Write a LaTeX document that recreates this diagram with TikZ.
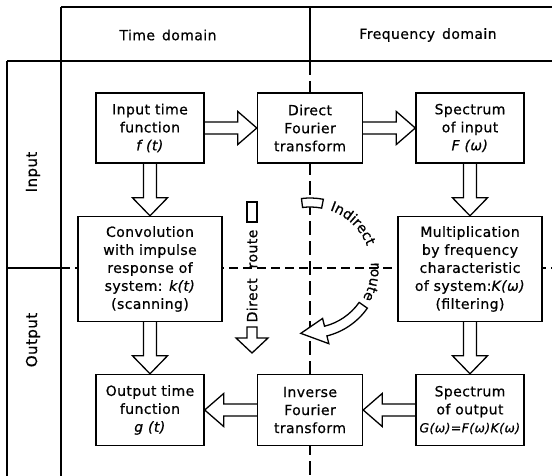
\documentclass[tikz,border=0pt]{standalone}
\usepackage{fontspec}
\setmainfont{DejaVu Sans}[LetterSpace=3, FakeBold=0.6]
\usetikzlibrary{positioning,calc,decorations.text}

\tikzset{
  gridline/.style={line width=1.1pt},
  divider/.style={line width=1.1pt, dash pattern=on 9pt off 5pt},
  heading/.style={font=\fontsize{14}{18}\selectfont},
  box/.style={draw, fill=white, line width=1.4pt, align=center, inner sep=1pt,
    font=\fontsize{14}{18}\selectfont},
  smallbox/.style={box, minimum width=108pt, minimum height=70pt},
  bigbox/.style={box, minimum width=144pt, minimum height=105pt},
  blockarrow/.style={draw, line width=1.3pt, line join=miter},
  routearrow/.style={blockarrow, fill=white},
  % hollow block arrows between the boxes
  fatdown/.style={blockarrow, to path={
    ($(\tikztostart.south)+(-6.5,0)$) -- ($(\tikztotarget.north)+(-6.5,-18)$)
    -- ($(\tikztotarget.north)+(-17.5,-18)$) -- (\tikztotarget.north)
    -- ($(\tikztotarget.north)+(17.5,-18)$) -- ($(\tikztotarget.north)+(6.5,-18)$)
    -- ($(\tikztostart.south)+(6.5,0)$)}},
  fatright/.style={blockarrow, to path={
    ($(\tikztostart.east)+(0,-6)$) -- ($(\tikztotarget.west)+(-19,-6)$)
    -- ($(\tikztotarget.west)+(-19,-16.5)$) -- (\tikztotarget.west)
    -- ($(\tikztotarget.west)+(-19,16.5)$) -- ($(\tikztotarget.west)+(-19,6)$)
    -- ($(\tikztostart.east)+(0,6)$)}},
  fatleft/.style={blockarrow, to path={
    ($(\tikztostart.west)+(0,-6)$) -- ($(\tikztotarget.east)+(19,-6)$)
    -- ($(\tikztotarget.east)+(19,-16.5)$) -- (\tikztotarget.east)
    -- ($(\tikztotarget.east)+(19,16.5)$) -- ($(\tikztotarget.east)+(19,6)$)
    -- ($(\tikztostart.west)+(0,6)$)}}
}

\begin{document}
\begin{tikzpicture}[x=1pt, y=-1pt, node distance=160pt]
	\useasboundingbox (0,0) rectangle (552,476);
	
	% table frame
	\draw[gridline] (61,7) -- (552,7);
	\draw[gridline] (7,61) -- (552,61);
	\draw[gridline] (7,61) -- (7,476);
	\draw[gridline] (61,7) -- (61,476);
	\draw[gridline] (310,7) -- (310,61);
	\draw[gridline] (7,268) -- (61,268);
	\draw[divider] (61,268) -- (552,268);
	\draw[divider, dash pattern=on 14pt off 6pt] (310,61) -- (310,476);
	
	\node[heading] (time) at (168,35) {Time\hspace{0.5em}domain};
	\node[heading] (freq) at (428,35) {Frequency\hspace{0.5em}domain};
	\node[heading, font=\fontsize{15}{18}\selectfont, rotate=90] (inrow) at (33,172) {Input};
	\node[heading, font=\fontsize{15}{18}\selectfont, rotate=90] (outrow) at (33,340) {Output};
	
	% boxes
	\node[smallbox] (infn) at (150,128) {Input time\\function\\\textit{f (t)}};
	\node[smallbox, minimum width=105pt] (dft) [right of=infn] {Direct\\Fourier\\transform};
	\node[smallbox] (specin) [right of=dft] {Spectrum\\of input\\\textit{F (ω)}};
	\node[bigbox] (conv) [below of=infn, node distance=141pt]
		{Convolution\\with impulse\\response of\\system: \textit{k(t)}\\(scanning)};
	\node[bigbox] (mult) [below of=specin, node distance=141pt]
		{Multiplication\\by frequency\\characteristic\\of system:\textit{K(ω)}\\(filtering)};
	\node[smallbox, minimum height=71pt] (outfn) [below of=conv, node distance=141pt]
		{Output time\\function\\\textit{g (t)}};
	\node[smallbox, minimum width=105pt, minimum height=71pt] (idft) [right of=outfn]
		{Inverse\\Fourier\\transform};
	\node[smallbox, minimum height=71pt] (specout) [right of=idft]
		{Spectrum\\of output\\{\fontsize{12.5}{18}\selectfont\textit{G(ω)=F(ω)K(ω)}}};
	
	\path
	(infn) edge[fatright] (dft)
	(dft) edge[fatright] (specin)
	(specin) edge[fatdown] (mult)
	(mult) edge[fatdown] (specout)
	(specout) edge[fatleft] (idft)
	(idft) edge[fatleft] (outfn)
	(infn) edge[fatdown] (conv)
	(conv) edge[fatdown] (outfn);
	
	% direct route
	\draw[routearrow] (247,202) rectangle (257,222);
	\node[heading, rotate=90] (direct) at (252,276) {Direct\hspace{10pt}route};
	\draw[routearrow] (247,327) -- (257,327) -- (257,338) -- (268,338) -- (252,353)
		-- (236,338) -- (247,338) -- cycle;
	
	% indirect route, bent round the crossing of the dashed lines
	\coordinate (hub) at (310,268);
	\draw[routearrow] ($(hub)+(97:61pt)$) arc[start angle=97, end angle=79, radius=61pt]
		-- ($(hub)+(79:70pt)$) arc[start angle=79, end angle=97, radius=70pt] -- cycle;
	\path[decorate, decoration={text along path, text align=center,
		text={|\fontsize{14}{18}\selectfont|Indirect}}]
		($(hub)+(75:61pt)$) arc[start angle=75, end angle=17, radius=61pt];
	\path[decorate, decoration={text along path, text align=center,
		text={|\fontsize{14}{18}\selectfont|route}}]
		($(hub)+(5:61pt)$) arc[start angle=5, end angle=-30, radius=61pt];
	\draw[routearrow] ($(hub)+(-35:60pt)$) arc[start angle=-35, end angle=-76, radius=60pt]
		-- ($(hub)+(-76:52pt)$) -- ($(hub)+(-98:66pt)$) -- ($(hub)+(-76:78pt)$)
		-- ($(hub)+(-76:70pt)$) arc[start angle=-76, end angle=-35, radius=70pt] -- cycle;
\end{tikzpicture}
\end{document}
